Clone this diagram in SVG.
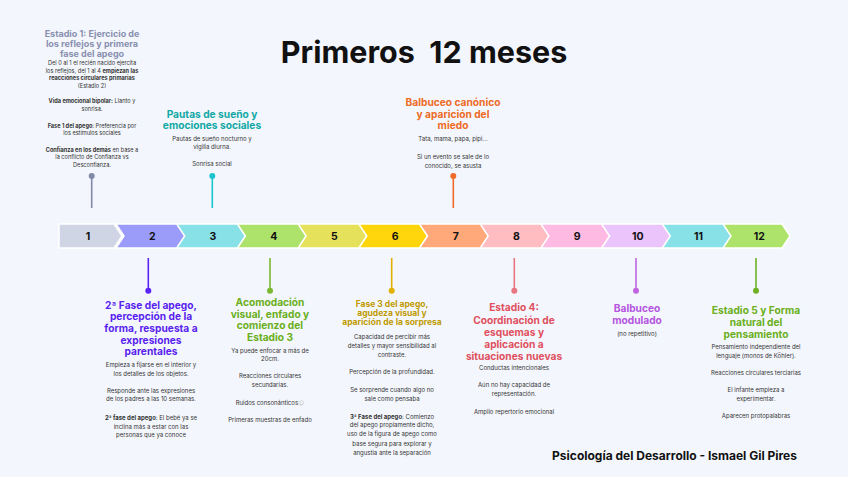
<svg xmlns="http://www.w3.org/2000/svg" width="848" height="477" viewBox="0 0 848 477">
<style>
text{font-family:Inter,"DejaVu Sans",sans-serif;text-anchor:middle}
.h{font-weight:700}
.t{font-size:10.2px}
.b{font-size:6px;fill:#333}
.bs{font-size:5.6px;fill:#333}
.n{font-size:10.5px;font-weight:700;fill:#111}
.seg{stroke:#fff;stroke-width:1.5}
</style>
<rect width="848" height="477" fill="#F3F7FD"/>
<text x="424" y="63" class="h" xml:space="preserve" style="font-size:30.5px;fill:#111;white-space:pre">Primeros  12 meses</text>

<g id="timeline">
<path class="seg" fill="#D0D5E5" d="M59,224H114L122,236L114,248H59Z"/>
<path class="seg" fill="#9B9CFA" d="M116,224H177L185,236L177,248H116L124,236Z"/>
<path class="seg" fill="#88E1E7" d="M176.7,224H237.7L245.7,236L237.7,248H176.7L184.7,236Z"/>
<path class="seg" fill="#AEE36B" d="M237.4,224H298.4L306.4,236L298.4,248H237.4L245.4,236Z"/>
<path class="seg" fill="#E6E15B" d="M298.1,224H359.1L367.1,236L359.1,248H298.1L306.1,236Z"/>
<path class="seg" fill="#FFD60C" d="M358.8,224H419.8L427.8,236L419.8,248H358.8L366.8,236Z"/>
<path class="seg" fill="#FFA87A" d="M419.5,224H480.5L488.5,236L480.5,248H419.5L427.5,236Z"/>
<path class="seg" fill="#FFBCC1" d="M480.2,224H541.2L549.2,236L541.2,248H480.2L488.2,236Z"/>
<path class="seg" fill="#FFBAE4" d="M540.9,224H601.9L609.9,236L601.9,248H540.9L548.9,236Z"/>
<path class="seg" fill="#EBC4FB" d="M601.6,224H662.6L670.6,236L662.6,248H601.6L609.6,236Z"/>
<path class="seg" fill="#88E1E7" d="M662.3,224H723.3L731.3,236L723.3,248H662.3L670.3,236Z"/>
<path class="seg" fill="#AEE36B" d="M723,224H782L790,236L782,248H723L731,236Z"/>
<text class="n" x="88" y="239.8">1</text>
<text class="n" x="152.3" y="239.8">2</text>
<text class="n" x="213" y="239.8">3</text>
<text class="n" x="273.7" y="239.8">4</text>
<text class="n" x="334.4" y="239.8">5</text>
<text class="n" x="395.1" y="239.8">6</text>
<text class="n" x="455.8" y="239.8">7</text>
<text class="n" x="516.5" y="239.8">8</text>
<text class="n" x="577.2" y="239.8">9</text>
<text class="n" x="637.9" y="239.8">10</text>
<text class="n" x="698.6" y="239.8">11</text>
<text class="n" x="759.3" y="239.8">12</text>
</g>

<g id="connectors" stroke-width="1.6">
<line x1="91.7" y1="176" x2="91.7" y2="208" stroke="#8189A8"/><circle cx="91.7" cy="176" r="3" fill="#8189A8"/>
<line x1="212.3" y1="176" x2="212.3" y2="208" stroke="#19C4CF"/><circle cx="212.3" cy="176" r="3" fill="#19C4CF"/>
<line x1="453.3" y1="176" x2="453.3" y2="208" stroke="#F06A2B"/><circle cx="453.3" cy="176" r="3" fill="#F06A2B"/>
<line x1="148.3" y1="258" x2="148.3" y2="290.7" stroke="#5B22F5"/><circle cx="148.3" cy="290.7" r="3" fill="#5B22F5"/>
<line x1="270" y1="258" x2="270" y2="290.7" stroke="#7CB82F"/><circle cx="270" cy="290.7" r="3" fill="#7CB82F"/>
<line x1="391.7" y1="258" x2="391.7" y2="290.7" stroke="#E2B100"/><circle cx="391.7" cy="290.7" r="3" fill="#E2B100"/>
<line x1="514.3" y1="258" x2="514.3" y2="290.7" stroke="#E8757F"/><circle cx="514.3" cy="290.7" r="3" fill="#E8757F"/>
<line x1="636" y1="258" x2="636" y2="290.7" stroke="#C064E0"/><circle cx="636" cy="290.7" r="3" fill="#C064E0"/>
<line x1="756" y1="258" x2="756" y2="290.7" stroke="#6EAF24"/><circle cx="756" cy="290.7" r="3" fill="#6EAF24"/>
</g>

<g id="mes1">
<text class="h" style="font-size:9px;fill:#8A90B0"><tspan x="92" y="36.5">Estadio 1: Ejercicio de</tspan><tspan x="92" y="46.5">los reflejos y primera</tspan><tspan x="92" y="56.5">fase del apego</tspan></text>
<text class="bs"><tspan x="92" y="65.3">Del 0 al 1 el recién nacido ejercita</tspan><tspan x="92" y="73">los reflejos, del 1 al 4 <tspan font-weight="700">empiezan las</tspan></tspan><tspan x="92" y="80.3" font-weight="700">reacciones circulares primarias</tspan><tspan x="92" y="87.7">(Estadio 2)</tspan><tspan x="92" y="103"><tspan font-weight="700">Vida emocional bipolar:</tspan> Llanto y</tspan><tspan x="92" y="111">sonrisa.</tspan><tspan x="92" y="128"><tspan font-weight="700">Fase 1 del apego</tspan>: Preferencia por</tspan><tspan x="92" y="135.3">los estímulos sociales</tspan><tspan x="92" y="152"><tspan font-weight="700">Confianza en los demás</tspan> en base a</tspan><tspan x="92" y="159.3">la conflicto de Confianza vs</tspan><tspan x="92" y="167">Desconfianza.</tspan></text>
</g>

<g id="mes3">
<text class="h t" style="fill:#12A8A6"><tspan x="212" y="117.5">Pautas de sueño y</tspan><tspan x="212" y="129.2">emociones sociales</tspan></text>
<text class="b"><tspan x="212" y="140.5">Pautas de sueño nocturno y</tspan><tspan x="212" y="148.8">vigilia diurna.</tspan><tspan x="212" y="165.5">Sonrisa social</tspan></text>
</g>

<g id="mes7">
<text class="h t" style="fill:#EE6A25"><tspan x="453" y="106">Balbuceo canónico</tspan><tspan x="453" y="117.7">y aparición del</tspan><tspan x="453" y="129">miedo</tspan></text>
<text class="b"><tspan x="453" y="141.2">Tata, mama, papa, pipi...</tspan><tspan x="453" y="158.9">Si un evento se sale de lo</tspan><tspan x="453" y="168.2">conocido, se asusta</tspan></text>
</g>

<g id="mes2">
<text class="h t" style="fill:#5A1FEE"><tspan x="151" y="308.7">2ª Fase del apego,</tspan><tspan x="151" y="320.4">percepción de la</tspan><tspan x="151" y="332">forma, respuesta a</tspan><tspan x="151" y="343.7">expresiones</tspan><tspan x="151" y="355.4">parentales</tspan></text>
<text class="b"><tspan x="151" y="367.2">Empieza a fijarse en el interior y</tspan><tspan x="151" y="375.5">los detalles de los objetos.</tspan><tspan x="151" y="392.9">Responde ante las expresiones</tspan><tspan x="151" y="401.2">de los padres a las 10 semanas.</tspan><tspan x="151" y="419.9"><tspan font-weight="700">2ª fase del apego</tspan>: El bebé ya se</tspan><tspan x="151" y="428.9">inclina más a estar con las</tspan><tspan x="151" y="437.2">personas que ya conoce</tspan></text>
</g>

<g id="mes4">
<text class="h t" style="fill:#6BAF20"><tspan x="270" y="306">Acomodación</tspan><tspan x="270" y="317.7">visual, enfado y</tspan><tspan x="270" y="329.3">comienzo del</tspan><tspan x="270" y="341">Estadio 3</tspan></text>
<text class="b"><tspan x="270" y="352.9">Ya puede enfocar a más de</tspan><tspan x="270" y="361.2">20cm.</tspan><tspan x="270" y="378.2">Reacciones circulares</tspan><tspan x="270" y="387.2">secundarias.</tspan><tspan x="270" y="404.5">Ruidos consonánticos<tspan fill="#bbb">☺</tspan></tspan><tspan x="270" y="422.2">Primeras muestras de enfado</tspan></text>
</g>

<g id="mes6">
<text class="h" style="font-size:8.5px;fill:#C09A00"><tspan x="392" y="307">Fase 3 del apego,</tspan><tspan x="392" y="316.3">agudeza visual y</tspan><tspan x="392" y="325.3">aparición de la sorpresa</tspan></text>
<text class="b"><tspan x="392" y="338.9">Capacidad de percibir más</tspan><tspan x="392" y="347.9">detalles y mayor sensibilidad al</tspan><tspan x="392" y="356.5">contraste.</tspan><tspan x="392" y="373.9">Percepción de la profundidad.</tspan><tspan x="392" y="391.5">Se sorprende cuando algo no</tspan><tspan x="392" y="400.5">sale como pensaba</tspan><tspan x="392" y="418.9"><tspan font-weight="700">3ª Fase del apego</tspan>: Comienzo</tspan><tspan x="392" y="427.2">del apego propiamente dicho,</tspan><tspan x="392" y="436.2">uso de la figura de apego como</tspan><tspan x="392" y="445.5">base segura para explorar y</tspan><tspan x="392" y="454.5">angustia ante la separación</tspan></text>
</g>

<g id="mes8">
<text class="h t" style="fill:#E0505F"><tspan x="514" y="311">Estadio 4:</tspan><tspan x="514" y="323.7">Coordinación de</tspan><tspan x="514" y="336">esquemas y</tspan><tspan x="514" y="348">aplicación a</tspan><tspan x="514" y="359.7">situaciones nuevas</tspan></text>
<text class="b"><tspan x="514" y="369.5">Conductas intencionales</tspan><tspan x="514" y="387.2">Aún no hay capacidad de</tspan><tspan x="514" y="396.2">representación.</tspan><tspan x="514" y="413.9">Amplio repertorio emocional</tspan></text>
</g>

<g id="mes10">
<text class="h t" style="fill:#B555E0"><tspan x="637" y="312">Balbuceo</tspan><tspan x="637" y="324.4">modulado</tspan></text>
<text class="b"><tspan x="637" y="335.5">(no repetitivo)</tspan></text>
</g>

<g id="mes12">
<text class="h t" style="fill:#6BAF20"><tspan x="756" y="314.4">Estadio 5 y Forma</tspan><tspan x="756" y="326.4">natural del</tspan><tspan x="756" y="338">pensamiento</tspan></text>
<text class="b"><tspan x="756" y="349.2">Pensamiento independiente del</tspan><tspan x="756" y="358.2">lenguaje (monos de Köhler).</tspan><tspan x="756" y="375.2">Reacciones circulares terciarias</tspan><tspan x="756" y="392.2">El infante empieza a</tspan><tspan x="756" y="401.2">experimentar.</tspan><tspan x="756" y="418.2">Aparecen protopalabras</tspan></text>
</g>

<text x="797" y="459.5" class="h" style="font-size:12px;fill:#111;text-anchor:end">Psicología del Desarrollo - Ismael Gil Pires</text>
</svg>
